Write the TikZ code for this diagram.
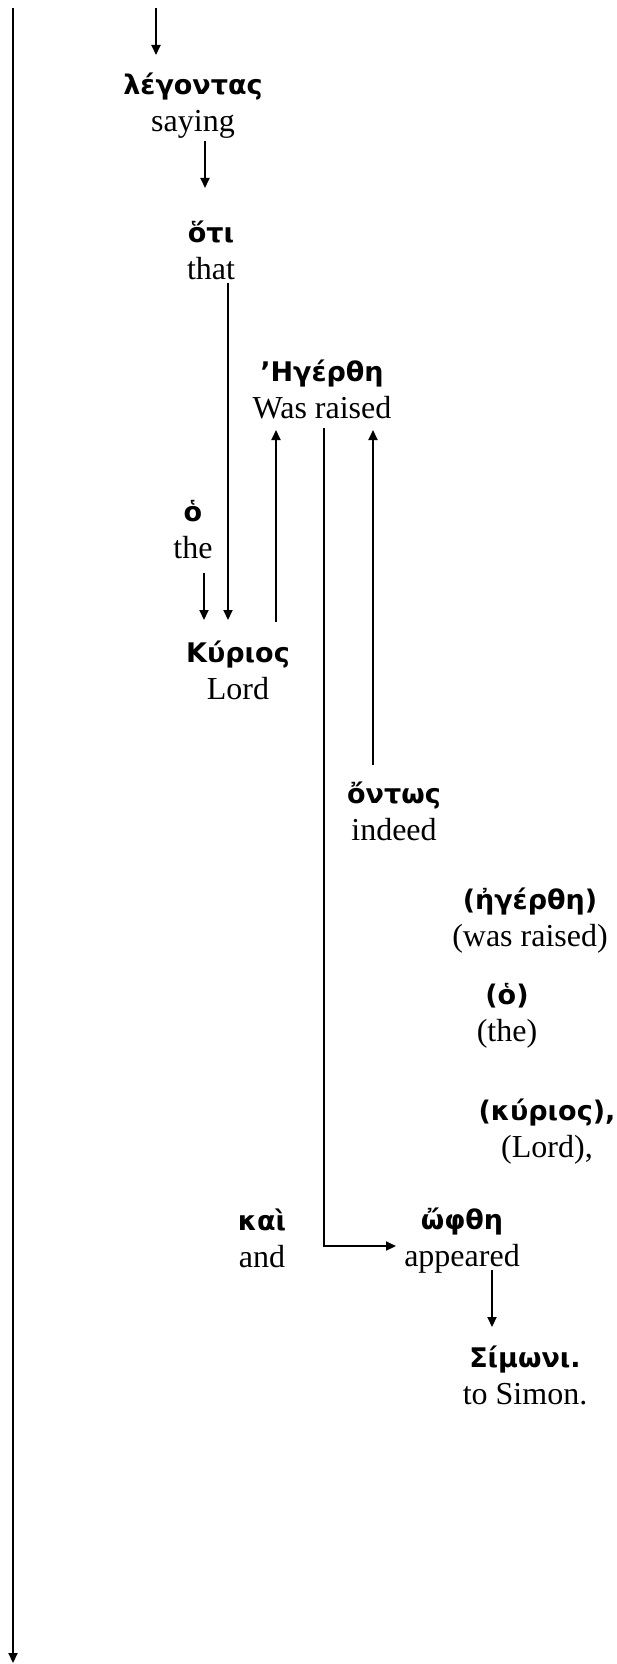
\documentclass[tikz,border=0pt]{standalone}
\usepackage{fontspec}
\setmainfont{Liberation Serif}
\newfontfamily\greekfont{DejaVu Sans}
\usepackage{tikz}
\usetikzlibrary{arrows.meta}
\newcommand{\gk}[1]{{\greekfont\bfseries\fontsize{27}{38}\selectfont #1}}
\tikzstyle{word} = [align=center, inner sep=4pt, font=\fontsize{32}{37}\selectfont]
\tikzstyle{arrow} = [line width=2pt,-{Triangle[length=10pt,width=9pt]}]

\begin{document}
\begin{tikzpicture}[x=1pt, y=-1pt]
\useasboundingbox (0,0) rectangle (616,1664);

\coordinate (top) at (13,8);
\coordinate (bottom) at (13,1663);
\coordinate (start) at (156,8);

\node (legontas) [word] at (193,106) {\gk{λέγοντας}\\saying};
\node (hoti) [word] at (211,250) {\gk{ὅτι}\\that};
\node (egerthe) [word] at (322,389) {\gk{’Ηγέρθη}\\Was raised};
\node (ho) [word] at (193,530) {\gk{ὁ}\\the};
\node (kyrios) [word] at (238,670) {\gk{Κύριος}\\Lord};
\node (ontos) [word] at (394,811) {\gk{ὄντως}\\indeed};
\node (egerthe2) [word] at (530,921) {\gk{(ἠγέρθη)}\\(was raised)};
\node (ho2) [word] at (507,1016) {\gk{(ὁ)}\\(the)};
\node (kyrios2) [word] at (547,1132) {\gk{(κύριος),}\\(Lord),};
\node (kai) [word] at (262,1238) {\gk{καὶ}\\and};
\node (ophthe) [word] at (462,1241) {\gk{ὤφθη}\\appeared};
\node (simoni) [word] at (525,1375) {\gk{Σίμωνι.}\\to Simon.};

\draw [arrow] (top) -- (bottom);
\draw [arrow] (start) -- ([shift={(-37,-51)}]legontas.center);
\draw [arrow] ([shift={(12,35)}]legontas.center) -- ([shift={(-6,-62)}]hoti.center);
\draw [arrow] ([shift={(17,33)}]hoti.center) -- ([shift={(-10,-50)}]kyrios.center);
\draw [arrow] ([shift={(11,43)}]ho.center) -- ([shift={(-34,-50)}]kyrios.center);
\draw [arrow] ([shift={(38,-48)}]kyrios.center) -- ([shift={(-46,41)}]egerthe.center);
\draw [arrow] ([shift={(-21,-46)}]ontos.center) -- ([shift={(51,41)}]egerthe.center);
\draw [arrow] ([shift={(2,39)}]egerthe.center) |- ([shift={(-66,5)}]ophthe.center);
\draw [arrow] ([shift={(30,29)}]ophthe.center) -- ([shift={(-33,-48)}]simoni.center);

\end{tikzpicture}
\end{document}
